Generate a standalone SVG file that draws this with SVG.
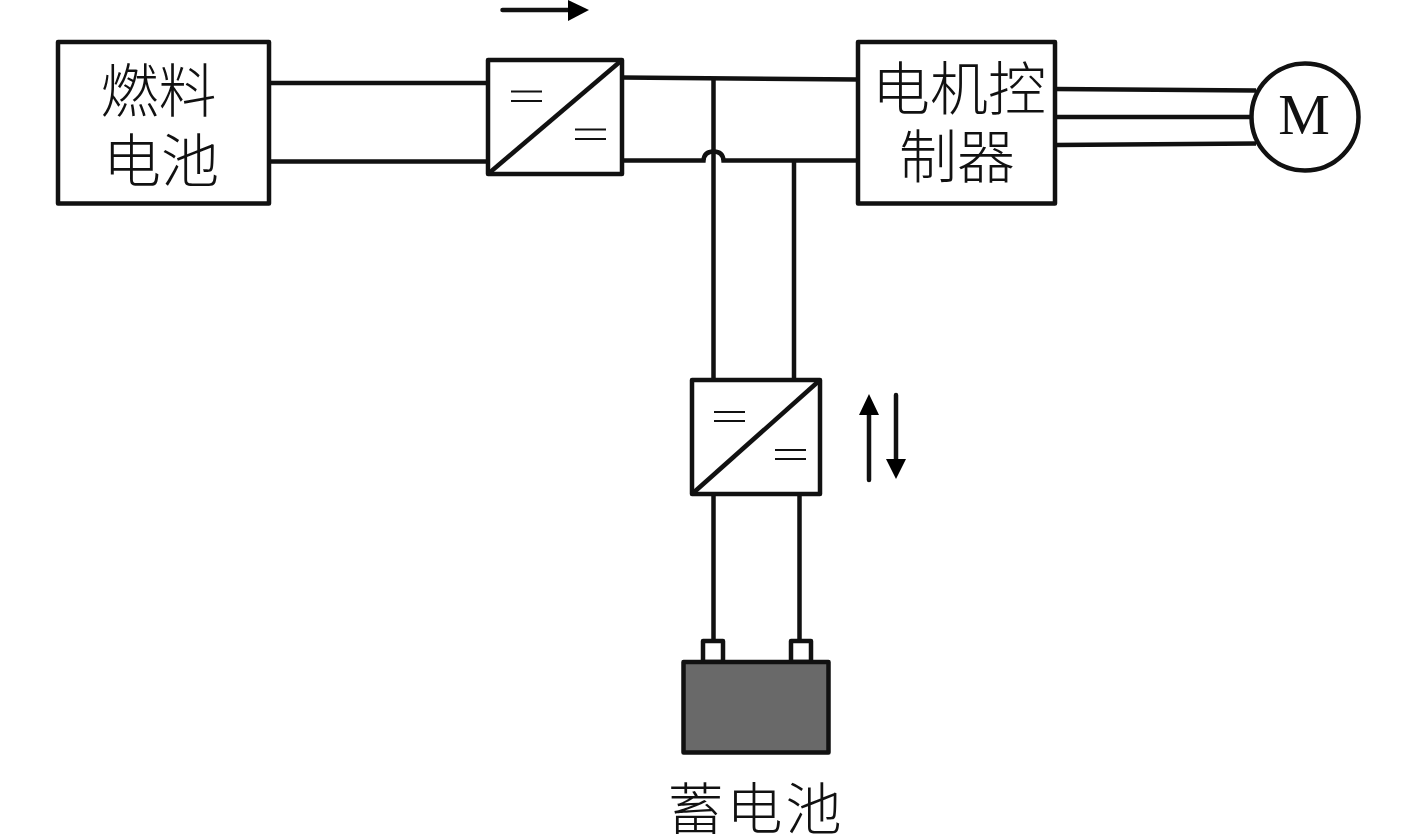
<svg xmlns="http://www.w3.org/2000/svg" width="1417" height="838" viewBox="0 0 1417 838">
<style>
.b{fill:#fff;stroke:#111;stroke-width:4.500;stroke-linejoin:round}
.w{fill:none;stroke:#111;stroke-width:4.500}
.t{fill:none;stroke:#111;stroke-width:2.200}
.a{fill:none;stroke:#111;stroke-width:4.500;stroke-linecap:round}
.h{fill:#000}
.c{font-family:"Noto Sans CJK SC","Liberation Serif",sans-serif;font-size:58px;font-weight:300;fill:#111;text-anchor:middle}
.m{font-family:"Liberation Serif",serif;font-size:58px;fill:#111;text-anchor:middle}
</style>
<rect width="1417" height="838" fill="#fff"/>
<g id="connectors">
<path class="w" d="M269 83H488M269 161.500H488"/>
<path class="w" d="M622 77.500L858 79.500"/>
<path class="w" d="M622 160.500H703.500C704 154 708 151.500 713.500 151.500C719 151.500 723 154 723.500 160.500H858"/>
<path class="w" d="M713.500 78V380M794 160.500V380"/>
<path class="w" d="M713.500 494V642M799.500 494V642"/>
<path class="w" d="M1055 89L1256 90.500M1055 117H1251M1055 145L1256 143.500"/>
</g>
<g id="fuel-cell">
<rect class="b" x="58" y="42" width="211" height="161.500"/>
<text class="c" x="158.500" y="112">燃料</text>
<text class="c" x="161" y="182">电池</text>
</g>
<g id="dcdc-top">
<rect class="b" x="488" y="60" width="134" height="114"/>
<path class="w" d="M488 174L622 60"/>
<path class="t" d="M511 91.500H542M511 101H542M575 129.500H606M575 139H606"/>
</g>
<g id="flow-top">
<path class="a" d="M502.500 10H570"/>
<path class="h" d="M568 0L589 10L568 21Z"/>
</g>
<g id="controller">
<rect class="b" x="858" y="42" width="197" height="161.500"/>
<text class="c" x="959" y="110">电机控</text>
<text class="c" x="957" y="178">制器</text>
</g>
<g id="motor">
<circle class="b" cx="1305" cy="117" r="53.500"/>
<text class="m" x="1304" y="134">M</text>
</g>
<g id="dcdc-bottom">
<rect class="b" x="692" y="380" width="128" height="114"/>
<path class="w" d="M692 494L820 380"/>
<path class="t" d="M714 412H745M714 421H745M775 450H806M775 459H806"/>
</g>
<g id="flow-bottom">
<path class="a" d="M869 480V412M896 395V460"/>
<path class="h" d="M869 394L879 415H859ZM896 479L886 459H906Z"/>
</g>
<g id="battery">
<rect class="b" x="703" y="641" width="20" height="21"/>
<rect class="b" x="791" y="641" width="20" height="21"/>
<rect x="683.500" y="662" width="145" height="90.500" fill="#696969" stroke="#111" stroke-width="4.500" stroke-linejoin="round"/>
<text class="c" x="756" y="829" letter-spacing="3" style="font-size:56px">蓄电池</text>
</g>
</svg>
